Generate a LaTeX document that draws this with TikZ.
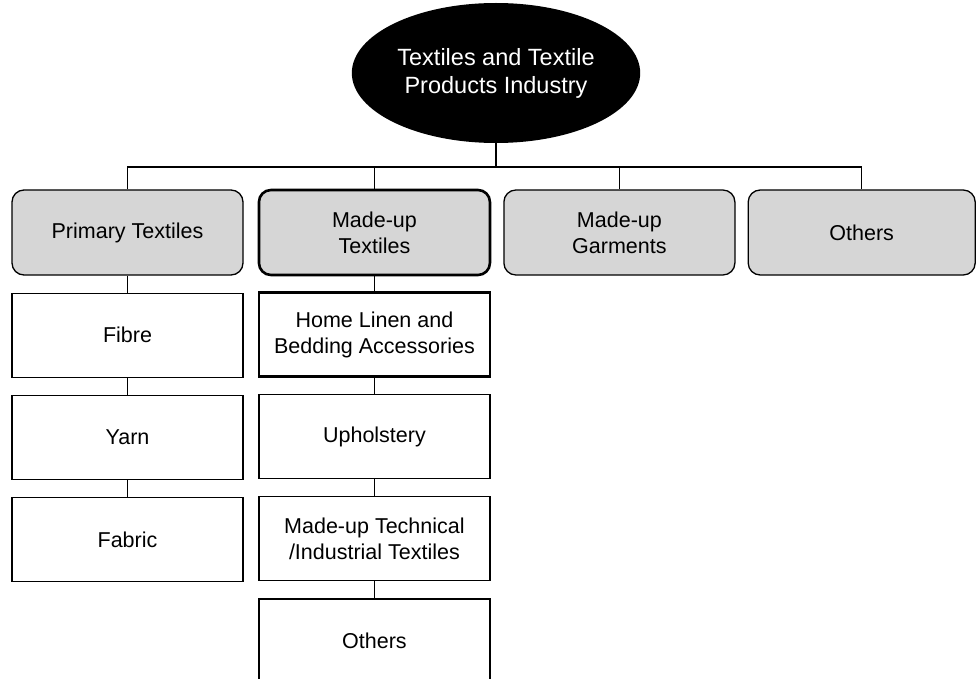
\documentclass[tikz,border=0pt]{standalone}
\usepackage{fontspec}
\setmainfont{Liberation Sans}
\usetikzlibrary{positioning,shapes.geometric}
\definecolor{stipple}{HTML}{D6D6D6}

\begin{document}
\begin{tikzpicture}[x=1pt,y=-1pt, font=\fontsize{21.5}{26}\selectfont,
      node distance=17pt,
      sector/.style={draw,rounded corners=12pt,fill=stipple,line width=1.3pt,
        minimum width=231pt,minimum height=85pt,align=center,inner sep=2pt},
      item/.style={draw,line width=1.2pt,minimum width=231pt,minimum height=84pt,
        align=center,inner sep=2pt},
      link/.style={line width=1.3pt}]
    \useasboundingbox (0,0) rectangle (977,679);
    \node[ellipse,fill=black,text=white,minimum width=242pt,minimum height=140pt,
      align=center,font=\fontsize{23.5}{28}\selectfont] (ind) at (496,73)
      {Textiles and Textile\\Products Industry};
    \node[sector] (prim) at (127.5,232.5) {Primary Textiles};
    \node[sector,line width=2.6pt,right=14pt of prim] (mut) {Made-up\\Textiles};
    \node[sector,right=12pt of mut] (mug) {Made-up\\Garments};
    \node[sector,minimum width=227pt,right=12pt of mug] (oth) {Others};
    % primary textiles column
    \node[item,below=of prim] (fibre) {Fibre};
    \node[item,below=of fibre] (yarn) {Yarn};
    \node[item,below=of yarn] (fabric) {Fabric};
    % made-up textiles column
    \node[item,line width=2.6pt,below=15pt of mut] (home) {Home Linen and\\Bedding Accessories};
    \node[item,below=16pt of home] (uph) {Upholstery};
    \node[item,below=of uph] (tech) {Made-up Technical\\/Industrial Textiles};
    \node[item,below=of tech] (othm) {Others};
    % tree connectors
    \coordinate (bar) at (0,167);
    \draw[link] (ind.south) -- (ind.south |- bar);
    \draw[link] (prim.north) |- (oth.north |- bar) -- (oth.north);
    \draw[link] (mut.north) -- (mut.north |- bar);
    \draw[link] (mug.north) -- (mug.north |- bar);
    \draw[link] (prim) -- (fibre);
    \draw[link] (fibre) -- (yarn);
    \draw[link] (yarn) -- (fabric);
    \draw[link] (mut) -- (home);
    \draw[link] (home) -- (uph);
    \draw[link] (uph) -- (tech);
    \draw[link] (tech) -- (othm);
  \end{tikzpicture}
\end{document}
